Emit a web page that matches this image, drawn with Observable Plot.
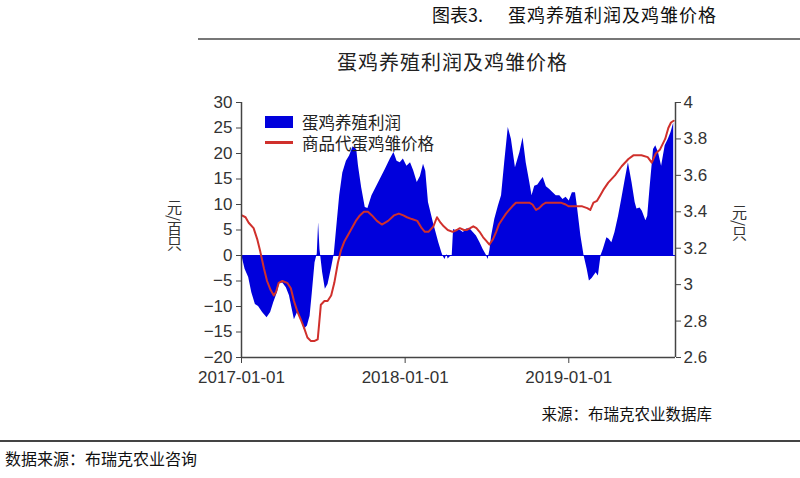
<!DOCTYPE html>
<html><head><meta charset="utf-8">
<script src="https://cdn.jsdelivr.net/npm/d3@7"></script>
<script src="https://cdn.jsdelivr.net/npm/@observablehq/plot@0.6"></script>
<style>
html,body{margin:0;padding:0;background:#fff;}
#wrap{position:relative;width:800px;height:478px;overflow:hidden;font-family:"Noto Sans CJK SC","Noto Sans",sans-serif;color:#222;}
.abs{position:absolute;white-space:nowrap;line-height:1;}
#chart{position:absolute;left:0;top:0;}
</style></head><body><div id="wrap"><div id="chart"></div></div>
<script>
// ---- data ----
const profitDates = [
"2017-01-03","2017-01-09","2017-01-17","2017-01-24","2017-02-01","2017-02-08","2017-02-17","2017-02-27","2017-03-07","2017-03-14",
"2017-03-22","2017-03-27","2017-04-03","2017-04-11","2017-04-18","2017-04-24","2017-04-29","2017-05-06","2017-05-13","2017-05-21",
"2017-05-28","2017-06-03","2017-06-08","2017-06-14","2017-06-19","2017-06-22","2017-06-25","2017-07-01","2017-07-07","2017-07-13",
"2017-07-21","2017-07-27","2017-08-01","2017-08-08","2017-08-15","2017-08-23","2017-08-30","2017-09-07","2017-09-15","2017-09-19",
"2017-09-26","2017-10-04","2017-10-10","2017-10-19","2017-11-03","2017-11-18","2017-11-29","2017-12-07","2017-12-14","2017-12-21",
"2017-12-28",
"2018-01-05","2018-01-13","2018-01-20","2018-01-28","2018-02-04","2018-02-11","2018-02-16","2018-02-22","2018-03-05","2018-03-17",
"2018-03-24","2018-03-27","2018-03-31","2018-04-04","2018-04-07","2018-04-11","2018-04-16","2018-04-19","2018-04-26","2018-05-03",
"2018-05-11","2018-05-18","2018-05-26","2018-06-02","2018-06-09","2018-06-17","2018-06-24","2018-07-01","2018-07-05","2018-07-09",
"2018-07-13","2018-07-20","2018-07-28","2018-08-04","2018-08-11","2018-08-19","2018-08-26","2018-09-04","2018-09-14","2018-09-21",
"2018-09-28","2018-10-06","2018-10-11","2018-10-17","2018-10-24","2018-10-30","2018-11-05","2018-11-12","2018-11-19","2018-11-27",
"2018-12-04","2018-12-12","2018-12-19","2018-12-26",
"2019-01-02","2019-01-09","2019-01-16","2019-01-20","2019-01-28","2019-02-04","2019-02-11","2019-02-16","2019-02-22","2019-03-03",
"2019-03-08","2019-03-14","2019-03-19","2019-03-27","2019-04-01","2019-04-07","2019-04-14","2019-04-22","2019-04-29","2019-05-07",
"2019-05-14","2019-05-22","2019-05-29","2019-06-02","2019-06-09","2019-06-14","2019-06-22","2019-06-26","2019-07-01","2019-07-09",
"2019-07-14","2019-07-20","2019-07-27","2019-08-04","2019-08-11","2019-08-17","2019-08-23"
];
const profitValues = [ // 蛋鸡养殖利润, 元/百只
-0.5,-2.7,-4.3,-7.3,-9.6,-10,-11.2,-12.2,-11.2,-9.2,
-7.3,-5.5,-5.4,-6.3,-7.9,-10.5,-12.6,-11.2,-12.2,-14.5,
-13.8,-11.9,-7.3,-1.4,0.3,6.4,1.2,-3.4,-6.6,-5.7,
-2.4,0.3,5.1,11.7,16.2,18.5,19.5,21.3,20.8,17.5,
13.3,9.4,9.2,11.7,14.3,16.9,18.9,20.2,18.5,18.2,
18.9,
17.5,18.2,16.6,14.3,15.5,17.9,16.5,10.4,6.4,2.5,
0.5,-0.2,-0.8,0.2,-0.7,-0.3,0,5.1,4.8,5.0,
4.5,5.2,5.2,4.5,3.8,2.5,1.2,0.1,-0.8,1.0,
3.8,7.1,9.7,11.7,18.2,25.1,22.8,17.2,20.2,23.1,
18.2,14.3,11.7,13.6,13.8,14.6,15.3,13.5,13.0,12.3,
11.7,11.7,11.0,11.4,
10.7,12.3,12.3,9.7,3.8,0,-2.7,-5.0,-4.5,-3.4,
-4.0,0,1.2,3.5,3.2,2.5,4.5,7.7,11.0,14.9,
18.2,14.3,10.4,9.1,9.3,8.7,6.8,7.7,13.0,20.8,
21.5,20.2,17.5,21.5,22.8,24.1,26.0
];
const priceDates = [
"2017-01-02","2017-01-10","2017-01-17","2017-01-28","2017-02-05","2017-02-12","2017-02-20","2017-02-27","2017-03-07","2017-03-14",
"2017-03-19","2017-03-25","2017-04-02","2017-04-13","2017-04-21","2017-04-28","2017-05-06","2017-05-13","2017-05-21","2017-05-28",
"2017-06-05","2017-06-12","2017-06-20","2017-06-23","2017-06-27","2017-07-05","2017-07-12","2017-07-20","2017-07-27","2017-08-04",
"2017-08-11","2017-08-19","2017-08-26","2017-09-04","2017-09-13","2017-09-22","2017-10-01","2017-10-10","2017-10-19","2017-10-30",
"2017-11-10","2017-11-24","2017-12-07","2017-12-18","2017-12-28",
"2018-01-05","2018-01-16","2018-01-28","2018-02-07","2018-02-14","2018-02-22","2018-03-05","2018-03-13","2018-03-21","2018-03-28",
"2018-04-06","2018-04-17","2018-04-26","2018-05-03","2018-05-12","2018-05-18","2018-05-26","2018-06-02","2018-06-09","2018-06-16",
"2018-06-24","2018-07-01","2018-07-08","2018-07-16","2018-07-23","2018-07-29","2018-08-06","2018-08-14","2018-08-21","2018-08-28",
"2018-09-05","2018-09-12","2018-09-20","2018-09-28","2018-10-05","2018-10-12","2018-10-20","2018-10-27","2018-11-04","2018-11-11",
"2018-11-22","2018-12-03","2018-12-14","2018-12-25",
"2019-01-01","2019-01-10","2019-01-20","2019-01-31","2019-02-11","2019-02-18","2019-02-25","2019-03-05","2019-03-12","2019-03-19",
"2019-03-30","2019-04-14","2019-04-29","2019-05-14","2019-05-25","2019-06-12","2019-06-26","2019-07-05","2019-07-14","2019-07-23",
"2019-08-04","2019-08-11","2019-08-17","2019-08-23"
];
const priceValues = [ // 商品代蛋鸡雏价格, 元/只
3.38,3.37,3.34,3.31,3.25,3.18,3.09,3.02,2.97,2.94,
2.96,3.01,3.02,3.01,2.98,2.91,2.85,2.81,2.76,2.71,
2.69,2.69,2.70,2.78,2.89,2.91,2.91,2.94,3.01,3.12,
3.19,3.24,3.27,3.31,3.35,3.38,3.40,3.40,3.38,3.35,
3.33,3.35,3.38,3.39,3.38,
3.37,3.36,3.35,3.31,3.29,3.29,3.32,3.37,3.34,3.32,
3.30,3.29,3.30,3.31,3.30,3.30,3.31,3.32,3.31,3.29,
3.26,3.24,3.22,3.25,3.29,3.33,3.36,3.39,3.41,3.43,
3.45,3.45,3.45,3.45,3.45,3.44,3.41,3.42,3.44,3.45,
3.45,3.45,3.45,3.44,
3.43,3.43,3.43,3.43,3.42,3.41,3.45,3.46,3.49,3.52,
3.56,3.60,3.65,3.69,3.71,3.71,3.70,3.67,3.72,3.74,
3.80,3.86,3.89,3.90
];
const leftTicks = [-20,-15,-10,-5,0,5,10,15,20,25,30];
const rightTicks = [2.6,2.8,3,3.2,3.4,3.6,3.8,4];
const xTicks = ["2017-01-01","2018-01-01","2019-01-01"];
const xRange = ["2017-01-01","2019-08-27"];
const seriesNames = ["蛋鸡养殖利润","商品代蛋鸡雏价格"];

// ---- build ----
const BLUE = "#0000dc", RED = "#d0302c", AXIS = "#444";
const L0 = leftTicks[0], L1 = leftTicks[leftTicks.length-1];
const P0 = rightTicks[0], P1 = rightTicks[rightTicks.length-1];
const toL = p => L0 + (p - P0) / (P1 - P0) * (L1 - L0);
const fromL = v => P0 + (v - L0) / (L1 - L0) * (P1 - P0);

const profit = profitDates.map((d,i) => ({date: new Date(d), v: profitValues[i]}));
const price = priceDates.map((d,i) => ({date: new Date(d), p: priceValues[i]}));
const xDom = xRange.map(s => new Date(s));

const chart = Plot.plot({
  width: 800, height: 478,
  marginTop: 102, marginBottom: 121, marginLeft: 241, marginRight: 125,
  style: {fontFamily: "'Liberation Sans', Arial, sans-serif", fontSize: "17px", color: "#333", background: "transparent", overflow: "visible"},
  x: {type: "utc", domain: xDom},
  y: {domain: [L0, L1]},
  marks: [
    Plot.areaY(profit, {x: "date", y: "v", fill: BLUE}),
    Plot.ruleY([0], {stroke: BLUE, strokeWidth: 1}),
    Plot.lineY(price, {x: "date", y: d => toL(d.p), stroke: RED, strokeWidth: 2}),
    Plot.ruleX([xDom[0]], {stroke: AXIS, strokeWidth: 1.5}),
    Plot.ruleX([xDom[1]], {stroke: AXIS, strokeWidth: 1.5}),
    Plot.ruleY([L0], {stroke: AXIS, strokeWidth: 1.5}),
    Plot.axisY({anchor: "left", ticks: leftTicks, tickSize: 5, tickPadding: 4, label: null, tickFormat: d3.format("d"), stroke: AXIS}),
    Plot.axisY({anchor: "right", ticks: rightTicks.map(toL), tickSize: 5, tickPadding: 3, label: null, tickFormat: d => String(+fromL(d).toFixed(1)), stroke: AXIS}),
    Plot.axisX({ticks: xTicks.map(s => new Date(s)), tickSize: 6, tickPadding: 7, label: null, tickFormat: d3.utcFormat("%Y-%m-%d"), stroke: AXIS})
  ]
});
document.getElementById("chart").appendChild(chart);

// ---- texts & decorations ----
const wrap = document.getElementById("wrap");
function add(html, css) {
  const el = document.createElement("div");
  el.className = "abs";
  el.innerHTML = html;
  Object.assign(el.style, css);
  wrap.appendChild(el);
  return el;
}
add("图表3.", {left: "432px", top: "5px", fontSize: "18px", color: "#111"});
add("蛋鸡养殖利润及鸡雏价格", {left: "508px", top: "5px", fontSize: "18px", letterSpacing: "1px", color: "#111"});
add("", {left: "198px", top: "38px", width: "602px", height: "2px", background: "#777"});
add("蛋鸡养殖利润及鸡雏价格", {left: "337px", top: "52px", fontSize: "20px", letterSpacing: "1px", color: "#222"});
// legend
add("", {left: "265px", top: "116px", width: "28px", height: "12px", background: BLUE});
add(seriesNames[0], {left: "302px", top: "114px", fontSize: "16.5px", color: "#222"});
add("", {left: "265px", top: "141px", width: "28px", height: "2.5px", background: RED});
add(seriesNames[1], {left: "302px", top: "135px", fontSize: "16.5px", color: "#222"});
// axis titles
add("元/百只", {left: "167px", top: "200px", fontSize: "15px", writingMode: "vertical-rl", color: "#333"});
add("元/只", {left: "732px", top: "205px", fontSize: "15px", writingMode: "vertical-rl", color: "#333"});
// footer
add("来源：布瑞克农业数据库", {right: "88px", top: "406px", fontSize: "15.5px", color: "#111"});
add("", {left: "0px", top: "440px", width: "800px", height: "2px", background: "#444"});
add("数据来源：布瑞克农业咨询", {left: "5px", top: "450px", fontSize: "16px", color: "#111"});
</script></body></html>
